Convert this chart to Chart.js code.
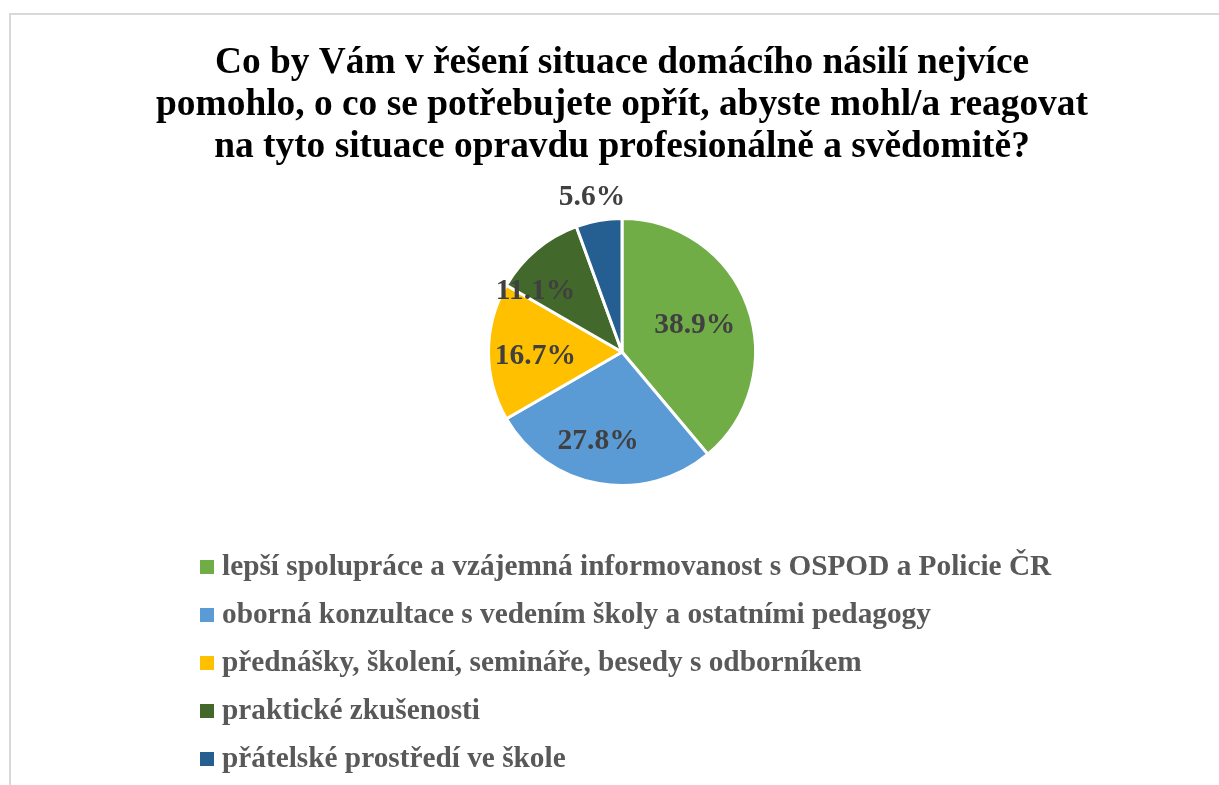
<!DOCTYPE html>
<html>
<head>
<meta charset="utf-8">
<script src="https://cdn.jsdelivr.net/npm/chart.js@4/dist/chart.umd.min.js"></script>
<style>
  html, body { margin: 0; padding: 0; background: #ffffff; overflow: hidden; }
  #frame { position: absolute; left: 9px; top: 13px; width: 1222px; height: 800px; border: 2px solid #d9d9d9; box-sizing: border-box; background: #fff; }
  canvas { position: absolute; left: 0; top: 0; }
</style>
</head>
<body>
<div id="frame"><canvas id="c" width="1220" height="770"></canvas></div>
<script>
const titleLines = [
  'Co by Vám v řešení situace domácího násilí nejvíce',
  'pomohlo, o co se potřebujete opřít, abyste mohl/a reagovat',
  'na tyto situace opravdu profesionálně a svědomitě?'
];
const categories = [
  'lepší spolupráce a vzájemná informovanost s OSPOD a Policie ČR',
  'oborná konzultace s vedením školy a ostatními pedagogy',
  'přednášky, školení, semináře, besedy s odborníkem',
  'praktické zkušenosti',
  'přátelské prostředí ve škole'
];
const counts = [7, 5, 3, 2, 1];
const colors = ['#70AD47', '#5B9BD5', '#FFC000', '#43682B', '#255E91'];

// label placement (fraction of radius, angle offset in degrees)
const labelRadiusFrac = [0.58, 0.69, 0.65, 0.79, 1.18];
const labelAngleShift = [0, 5, -3, -15, -1];

const SERIF = "'Liberation Serif', 'Times New Roman', serif";

const pctLabels = {
  id: 'pctLabels',
  afterDatasetsDraw(chart) {
    const ctx = chart.ctx;
    const meta = chart.getDatasetMeta(0);
    const data = chart.data.datasets[0].data;
    const total = data.reduce((a, b) => a + b, 0);
    ctx.save();
    ctx.font = 'bold 29.5px ' + SERIF;
    ctx.fillStyle = '#404040';
    ctx.textAlign = 'center';
    ctx.textBaseline = 'middle';
    meta.data.forEach((arc, i) => {
      const p = arc.getProps(['x', 'y', 'startAngle', 'endAngle', 'outerRadius'], true);
      const mid = (p.startAngle + p.endAngle) / 2 + labelAngleShift[i] * Math.PI / 180;
      const r = p.outerRadius * labelRadiusFrac[i];
      const txt = (data[i] / total * 100).toFixed(1) + '%';
      ctx.fillText(txt, p.x + Math.cos(mid) * r, p.y + Math.sin(mid) * r);
    });
    ctx.restore();
  }
};

const customLegend = {
  id: 'customLegend',
  afterDraw(chart) {
    const ctx = chart.ctx;
    const labels = chart.data.labels;
    const bg = chart.data.datasets[0].backgroundColor;
    const x0 = 189, y0 = 552, step = 48, box = 14;
    ctx.save();
    ctx.font = 'bold 29.3px ' + SERIF;
    ctx.textBaseline = 'middle';
    ctx.textAlign = 'left';
    labels.forEach((lab, i) => {
      const y = y0 + i * step;
      ctx.fillStyle = bg[i];
      ctx.fillRect(x0, y - box / 2, box, box);
      ctx.fillStyle = '#595959';
      ctx.fillText(lab, x0 + box + 8, y);
    });
    ctx.restore();
  }
};

new Chart(document.getElementById('c'), {
  type: 'pie',
  data: {
    labels: categories,
    datasets: [{
      data: counts,
      backgroundColor: colors,
      borderColor: '#ffffff',
      borderWidth: 3
    }]
  },
  options: {
    responsive: false,
    animation: false,
    layout: { padding: { top: 27, bottom: 298, left: 2, right: 0 } },
    plugins: {
      legend: { display: false },
      tooltip: { enabled: false },
      title: {
        display: true,
        text: titleLines,
        color: '#000000',
        font: { family: SERIF, size: 37.4, weight: 'bold', lineHeight: 1.123 },
        padding: { top: 0, bottom: 49 }
      }
    }
  },
  plugins: [pctLabels, customLegend]
});
</script>
</body>
</html>
